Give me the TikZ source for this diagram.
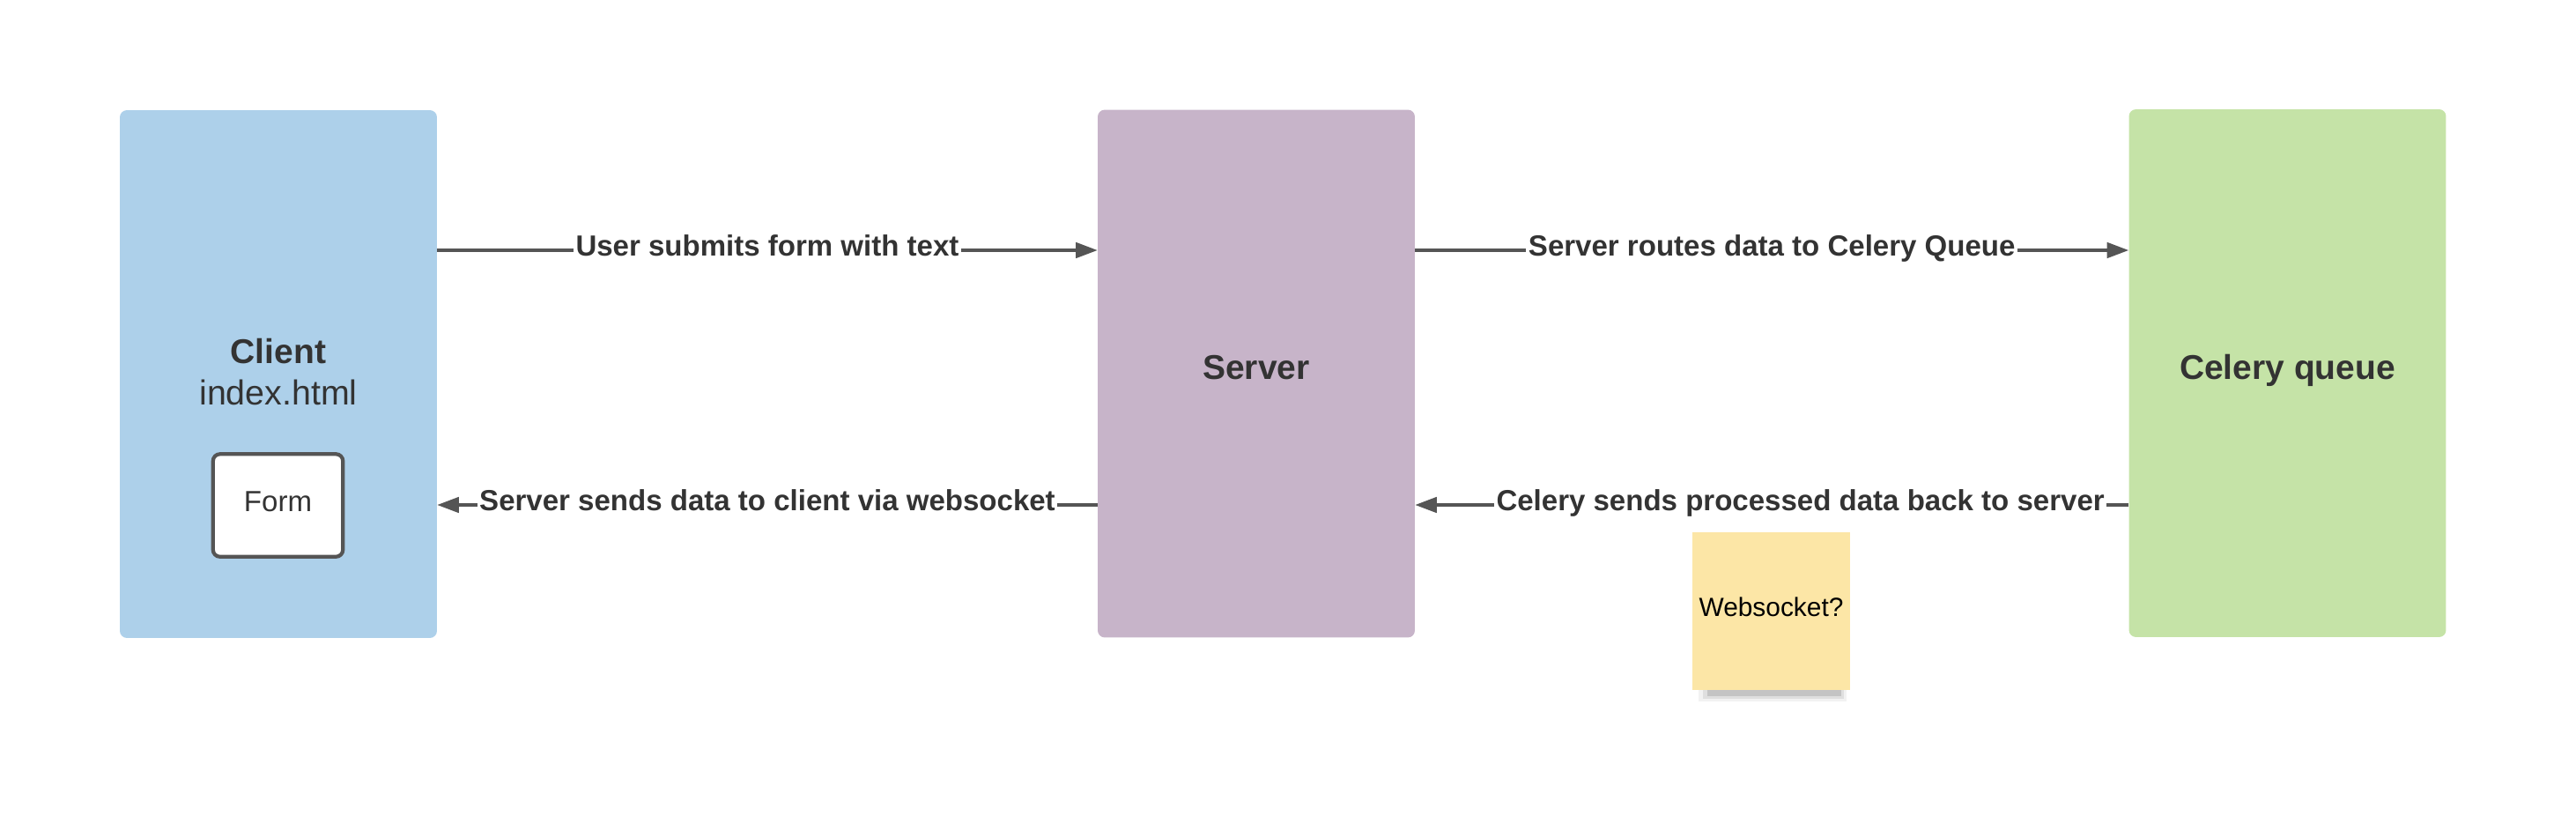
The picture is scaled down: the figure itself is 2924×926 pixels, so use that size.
\documentclass[tikz,border=0pt]{standalone}
\usepackage{fontspec}
\setmainfont{Liberation Sans}
\usetikzlibrary{arrows.meta,positioning}
\definecolor{ClientBlue}{HTML}{ADD0EA}
\definecolor{ServerMauve}{HTML}{C7B4C9}
\definecolor{CeleryGreen}{HTML}{C5E3A7}
\definecolor{NoteYellow}{HTML}{FCE6A6}
\definecolor{InkGray}{HTML}{333333}
\definecolor{LineGray}{HTML}{555555}

\begin{document}
\begin{tikzpicture}[x=0.02cm,y=-0.02cm,>={Triangle[length=14pt,width=10pt]},
  block/.style={rounded corners=4.5pt,minimum width=7.2cm,minimum height=11.98cm,inner sep=0pt},
  title/.style={anchor=base,text=InkGray,font=\fontsize{22.2}{26}\selectfont\bfseries},
  subtitle/.style={anchor=base,text=InkGray,font=\fontsize{22.4}{26}\selectfont},
  formbox/.style={draw=LineGray,line width=2.4pt,fill=white,rounded corners=4.5pt,minimum width=2.95cm,minimum height=2.33cm,text depth=5pt,font=\fontsize{18.8}{22}\selectfont,text=InkGray},
  sticky/.style={fill=NoteYellow,minimum size=3.58cm,inner sep=0pt,text depth=5pt,font=\fontsize{17}{20}\selectfont},
  flow/.style={->,line width=1.8pt,LineGray},
  msg/.style={fill=white,inner sep=1.5pt,anchor=base,yshift=-3.7pt,text=InkGray,font=\fontsize{18.8}{22}\selectfont\bfseries}]
  \useasboundingbox (0,0) rectangle (2924,926);
  \node[block,fill=ClientBlue] (client) at (316,424.5) {};
  \node[block,fill=ServerMauve] (server) at (1426,424) {};
  \node[block,fill=CeleryGreen] (celery) at (2596.5,423.5) {};
  \node[title] (clientname) at (316,412.5) {Client};
  \node[subtitle] (clientfile) at (316,459) {index.html};
  \node[title] (servername) at (1426,430) {Server};
  \node[title] (celeryname) at (2596.5,430) {Celery queue};
  \node[formbox] (form) at (315.5,573.5) {Form};
  \coordinate (upper) at (0,284);
  \coordinate (lower) at (0,573);
  \draw[flow] (client.east |- upper) -- node[msg] {User submits form with text} (server.west |- upper);
  \draw[flow] (server.east |- upper) -- node[msg] {Server routes data to Celery Queue} (celery.west |- upper);
  \draw[flow] (server.west |- lower) -- node[msg] {Server sends data to client via websocket} (client.east |- lower);
  \draw[flow] (celery.west |- lower) -- node[msg,pos=0.46] {Celery sends processed data back to server} (server.east |- lower);
  \fill[black,opacity=0.05] (1928,779) rectangle (2096,796);
  \fill[black,opacity=0.08] (1933,781) rectangle (2093,793);
  \fill[black,opacity=0.12] (1938,783) rectangle (2090,790);
  \node[sticky] (note) at (2010.5,693.5) {Websocket?};
\end{tikzpicture}
\end{document}
